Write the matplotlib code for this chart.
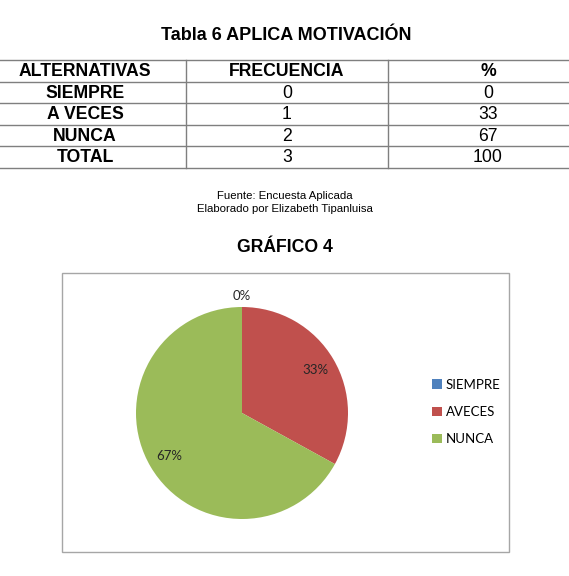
import matplotlib
matplotlib.use('Agg')
import matplotlib.pyplot as plt
from matplotlib.patches import Rectangle
import numpy as np

# datos de la tabla
encabezado = ['ALTERNATIVAS', 'FRECUENCIA', '%']
alternativas = ['SIEMPRE', 'A VECES', 'NUNCA', 'TOTAL']
frecuencia = [0, 1, 2, 3]
porcentaje = [0, 33, 67, 100]

# datos del grafico
etiquetas = ['SIEMPRE', 'AVECES', 'NUNCA']
valores = [0, 33, 67]
colores = ['#4F81BD', '#C0504D', '#9BBB59']

W, H = 569, 576
fig = plt.figure(figsize=(W / 100, H / 100), dpi=100)
fig.patch.set_facecolor('white')

def fy(y):
    return 1 - y / H

def fx(x):
    return x / W

arial = 'Liberation Sans'
calibri = 'Lato'

# tabla en coordenadas de pixel
tab = fig.add_axes([0, 0, 1, 1])
tab.set_xlim(0, W)
tab.set_ylim(H, 0)
tab.axis('off')
tab.patch.set_alpha(0)

tab.text(286, 36, 'Tabla 6 APLICA MOTIVACIÓN', ha='center', va='center',
         fontsize=13, fontweight='bold', family=arial)

fila_y = [60 + 21.5 * i for i in range(6)]
for y in fila_y:
    tab.plot([0, W], [y, y], color='#7f7f7f', lw=1.0)
for x in [186, 388]:
    tab.plot([x, x], [fila_y[0], fila_y[-1]], color='#7f7f7f', lw=1.0)

centros = [85, 287, 488]
yc = (fila_y[0] + fila_y[1]) / 2
for c, t in zip(centros, encabezado):
    tab.text(c, yc + 1, t, ha='center', va='center', fontsize=12.7,
             fontweight='bold', family=arial)
for i, (a, f, p) in enumerate(zip(alternativas, frecuencia, porcentaje)):
    yc = (fila_y[i + 1] + fila_y[i + 2]) / 2 + 1
    tab.text(centros[0], yc, a, ha='center', va='center', fontsize=12.7,
             fontweight='bold', family=arial)
    tab.text(centros[1], yc, str(f), ha='center', va='center', fontsize=12.7, family=arial)
    tab.text(centros[2], yc, str(p), ha='center', va='center', fontsize=12.7, family=arial)

tab.text(285, 196, 'Fuente: Encuesta Aplicada', ha='center', va='center',
         fontsize=8.2, family=arial)
tab.text(285, 209, 'Elaborado por Elizabeth Tipanluisa', ha='center', va='center',
         fontsize=8.2, family=arial)
tab.text(285, 248, 'GRÁFICO 4', ha='center', va='center', fontsize=12.7,
         fontweight='bold', family=arial)

# marco del grafico
tab.add_patch(Rectangle((62, 273), 509 - 62, 552 - 273, fill=False,
                        edgecolor='#a6a6a6', lw=1.0))

# pastel
cx, cy, r = 242, 413, 106
ax = fig.add_axes([fx(cx - r), fy(cy + r), 2 * r / W, 2 * r / H])
wedges, _ = ax.pie(valores, colors=colores, startangle=90, counterclock=False,
                   radius=1, wedgeprops=dict(linewidth=0))
ax.set_xlim(-1, 1)
ax.set_ylim(-1, 1)
ax.set_aspect('auto')
ax.axis('off')

total = sum(valores)
inicio = 90
for v in valores:
    ang = inicio - 360 * v / total / 2
    inicio -= 360 * v / total
    d = 1.1 if v == 0 else 0.8
    ax.text(d * np.cos(np.radians(ang)), d * np.sin(np.radians(ang)), f'{v}%',
            ha='center', va='center', fontsize=9.5, family=calibri, color='#262626',
            clip_on=False)

fig.legend(wedges, etiquetas, loc='center left', bbox_to_anchor=(fx(420), fy(412)),
           frameon=False, handlelength=0.75, handleheight=0.75, handletextpad=0.3,
           labelspacing=1.15, prop=dict(family=calibri, size=9.5))

fig.savefig('out.png', dpi=100)
